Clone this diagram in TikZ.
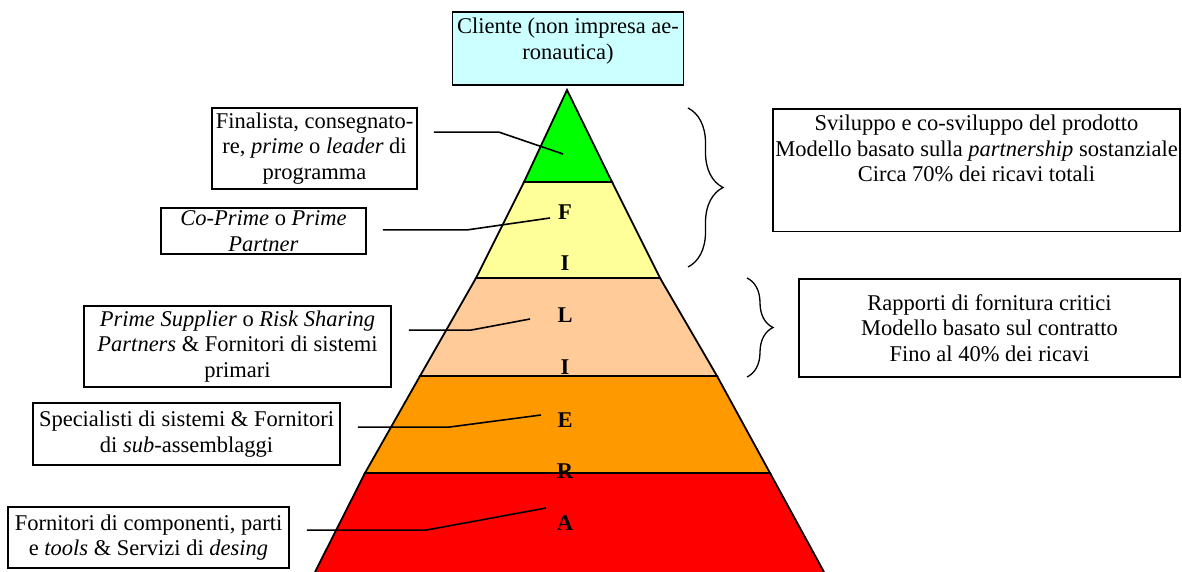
\documentclass[tikz,border=0pt]{standalone}
\usepackage{fontspec}
\setmainfont{Liberation Serif}
\usetikzlibrary{%
  decorations.pathreplacing,% wg. brace
  calc
}
\definecolor{clientcyan}{HTML}{CCFFFF}
\definecolor{levgreen}{HTML}{00FF00}
\definecolor{levyellow}{HTML}{FFFF99}
\definecolor{levpeach}{HTML}{FFCC99}
\definecolor{levorange}{HTML}{FF9900}
\definecolor{levred}{HTML}{FF0000}

\begin{document}
\begin{tikzpicture}[
  x=1pt, y=-1pt, line width=1.6pt,
  font=\fontsize{22.5}{25.5}\selectfont,
  rolebox/.style={rectangle, draw=black, line width=1.8pt, fill=white, align=center, inner sep=3pt},
  notebox/.style={rectangle, draw=black, line width=1.8pt, fill=white, align=center, inner xsep=2pt, inner ysep=6pt},
  clientbox/.style={notebox, fill=clientcyan},
  level/.style={draw=black, line width=1.8pt, line join=miter},
  letter/.style={anchor=base, inner sep=0pt, font=\fontsize{22.5}{25.5}\selectfont\bfseries},
  grip/.style={decorate, line width=1.3pt}
]
\useasboundingbox (0,0) rectangle (1182,571);

% piramide
\filldraw[level, fill=levgreen]  (567,90) -- (612,182) -- (524,182) -- cycle;
\filldraw[level, fill=levyellow] (524,182) -- (612,182) -- (660,278) -- (476,278) -- cycle;
\filldraw[level, fill=levpeach]  (476,278) -- (660,278) -- (717,376) -- (420,376) -- cycle;
\filldraw[level, fill=levorange] (420,376) -- (717,376) -- (770,473) -- (365,473) -- cycle;
\fill[levred] (365,473) -- (770,473) -- (824,572) -- (315,572) -- cycle;
\draw[level] (315,572) -- (365,473) -- (770,473) -- (824,572);

\node[letter] (f1) at (565,219) {F};
\node[letter] (i1) at (565,270) {I};
\node[letter] (l1) at (565,322) {L};
\node[letter] (i2) at (565,374) {I};
\node[letter] (e1) at (565,427) {E};
\node[letter] (r1) at (565,478) {R};
\node[letter] (a1) at (565,530) {A};

% cliente
\node[clientbox, anchor=north, minimum width=231, text depth=20pt] (client) at (568,11)
  {Cliente (non impresa ae-\\ronautica)};

% ruoli a sinistra
\node[rolebox, minimum width=205, minimum height=81] (finalista) at (314.5,148.5)
  {Finalista, consegnato-\\re, \textit{prime} o \textit{leader} di\\programma};
\node[rolebox, anchor=south, minimum width=205, text depth=0pt] (coprime) at (263.5,255)
  {\textit{Co-Prime} o \textit{Prime}\\\textit{Partner}};
\node[rolebox, minimum width=307, minimum height=81] (primesup) at (237.5,346.5)
  {\textit{Prime Supplier} o \textit{Risk Sharing}\\\textit{Partners} \& Fornitori di sistemi\\primari};
\node[rolebox, minimum width=307, minimum height=62] (special) at (186.5,434)
  {Specialisti di sistemi \& Fornitori\\di \textit{sub}-assemblaggi};
\node[rolebox, minimum width=281, minimum height=61] (fornit) at (148.5,537.5)
  {Fornitori di componenti, parti\\e \textit{tools} \& Servizi di \textit{desing}};

\coordinate (tfinalista) at (563,154);
\coordinate (tcoprime)   at (550,218);
\coordinate (tprimesup)  at (530,319);
\coordinate (tspecial)   at (541,415);
\coordinate (tfornit)    at (546,508);

\draw ([shift={(16,25)}]finalista.north east) -- ++(65,0) -- (tfinalista);
\draw ([shift={(16,23)}]coprime.north east) -- ++(85,0) -- (tcoprime);
\draw ([shift={(17,25)}]primesup.north east) -- ++(62,0) -- (tprimesup);
\draw ([shift={(17,25)}]special.north east) -- ++(91,0) -- (tspecial);
\draw ([shift={(17,24)}]fornit.north east) -- ++(119,0) -- (tfornit);

% note a destra
\node[notebox, anchor=north, minimum width=407, text depth=44pt] (sviluppo) at (976.5,108)
  {Sviluppo e co-sviluppo del prodotto\\Modello basato sulla \textit{partnership} sostanziale\\Circa 70\% dei ricavi totali};
\node[notebox, minimum width=381, minimum height=98] (fornitura) at (989.5,328)
  {Rapporti di fornitura critici\\Modello basato sul contratto\\Fino al 40\% dei ricavi};

\draw[grip, decoration={brace, amplitude=35pt}] (688,108) -- (688,267);
\draw[grip, decoration={brace, amplitude=26pt}] (747,278) -- (747,377);
\end{tikzpicture}
\end{document}
